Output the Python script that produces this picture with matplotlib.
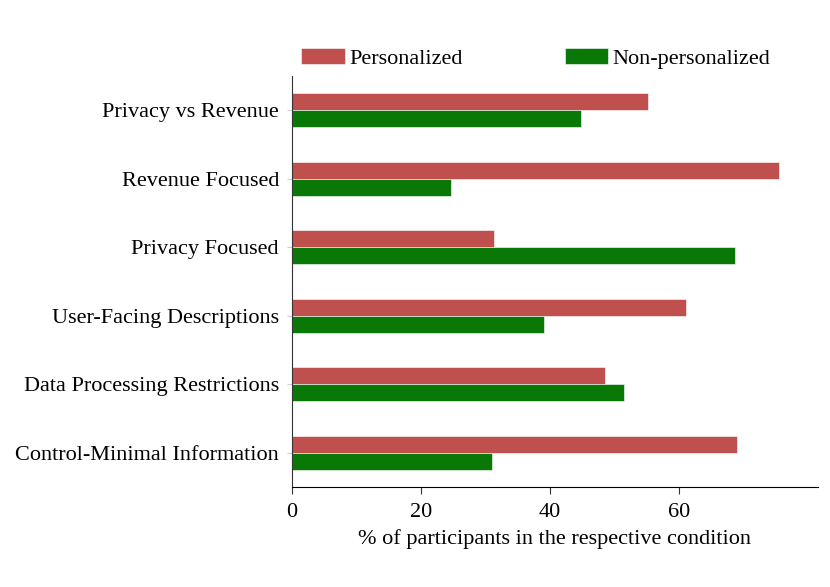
import matplotlib
matplotlib.use("Agg")
import matplotlib.pyplot as plt
import numpy as np

plt.rcParams.update({
    "font.family": ["Liberation Serif", "DejaVu Serif"],
    "font.size": 16,
})

categories = [
    "Privacy vs Revenue",
    "Revenue Focused",
    "Privacy Focused",
    "User-Facing Descriptions",
    "Data Processing Restrictions",
    "Control-Minimal Information",
]
personalized = [55.2, 75.4, 31.3, 61.0, 48.5, 69.0]
non_personalized = [44.8, 24.6, 68.7, 39.0, 51.5, 31.0]
xticks = [0, 20, 40, 60]

RED = "#c0504d"
GREEN = "#0a7807"

fig = plt.figure(figsize=(8.3, 5.87), dpi=100)
ax = fig.add_axes([292 / 830, 1 - 487 / 587, 526 / 830, 411 / 587])

y = np.arange(len(categories))[::-1]
h = 0.25
ax.barh(y + h / 2, personalized, height=h, color=RED,
        edgecolor="white", linewidth=0.4, label="Personalized")
ax.barh(y - h / 2, non_personalized, height=h, color=GREEN,
        edgecolor="white", linewidth=0.4, label="Non-personalized")

ax.set_yticks(y)
ax.set_yticklabels(categories)
ax.set_xticks(xticks)
ax.set_xlim(0, 81.5)
ax.set_ylim(-0.5, len(categories) - 0.5)
ax.set_xlabel("% of participants in the respective condition", labelpad=5)

ax.spines["top"].set_visible(False)
ax.spines["right"].set_visible(False)
ax.spines["left"].set_color("#333333")
ax.tick_params(axis="y", length=3.6, color="#cccccc", pad=5.8)
ax.tick_params(axis="x", length=5, width=0.8, color="#333333", pad=6.5)

ax.legend(loc="lower left", bbox_to_anchor=(-0.012, 0.98), ncol=2, frameon=False,
          handlelength=1.95, handleheight=0.75, handletextpad=0.2,
          columnspacing=4.6, borderaxespad=0.3)

fig.savefig("out.png", dpi=100)
